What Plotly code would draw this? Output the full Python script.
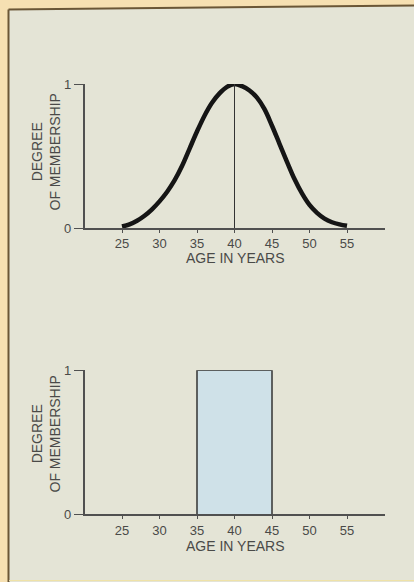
import plotly.graph_objects as go

# ---- data ----
ages = [25, 26, 27, 28, 29, 30, 31, 32, 33, 34, 35, 36, 37, 38, 39, 40,
        41, 42, 43, 44, 45, 46, 47, 48, 49, 50, 51, 52, 53, 54, 55]
fuzzy_membership = [0.01, 0.025, 0.05, 0.085, 0.13, 0.185, 0.25, 0.33, 0.43, 0.55, 0.67,
                    0.78, 0.87, 0.935, 0.98, 1.0,
                    0.985, 0.955, 0.905, 0.825, 0.71, 0.585, 0.46, 0.34, 0.24, 0.16,
                    0.105, 0.065, 0.04, 0.025, 0.015]
peak_age = 40
crisp_lower = 35
crisp_upper = 45
crisp_membership = 1
x_ticks = [25, 30, 35, 40, 45, 50, 55]
x_range = [20, 60]
y_ticks = [0, 1]

W, H = 414, 582
def px(x):
    return x / W
def py(y):
    return 1 - y / H

FONT = "Liberation Sans, Arial, sans-serif"
TXT = "#4a4a48"
AX = "#505050"
BG = "#e4e4d6"
OUTER = "#f6e0b2"

fig = go.Figure()

# top: fuzzy set
fig.add_trace(go.Scatter(x=ages, y=fuzzy_membership, mode="lines",
                         line=dict(color="#151515", width=4.5, shape="spline", smoothing=1.0),
                         xaxis="x", yaxis="y", showlegend=False, hoverinfo="skip"))
fig.add_trace(go.Scatter(x=[peak_age, peak_age], y=[0, max(fuzzy_membership)], mode="lines",
                         line=dict(color="#333333", width=1),
                         xaxis="x", yaxis="y", showlegend=False, hoverinfo="skip"))

# bottom: crisp set (open at the bottom so it sits on the axis)
fig.add_trace(go.Scatter(x=[crisp_lower, crisp_lower, crisp_upper, crisp_upper],
                         y=[0, crisp_membership, crisp_membership, 0],
                         mode="lines", fill="toself", fillcolor="#cfe1e8",
                         line=dict(color="#333333", width=1.5),
                         xaxis="x2", yaxis="y2", showlegend=False, hoverinfo="skip"))

xdom = [px(84.5), px(384.5)]
axis_common = dict(showgrid=False, zeroline=False, showline=True, linecolor=AX, linewidth=1.5,
                   ticks="outside", tickcolor=AX, tickwidth=1.2, automargin=False,
                   tickfont=dict(family=FONT, size=13, color=TXT))

fig.update_layout(
    width=W, height=H, autosize=False,
    margin=dict(l=0, r=0, t=0, b=0, pad=0, autoexpand=False),
    paper_bgcolor=OUTER,
    plot_bgcolor="rgba(0,0,0,0)",
    xaxis=dict(domain=xdom, range=x_range, tickvals=x_ticks, ticklen=3, anchor="y", **axis_common),
    yaxis=dict(domain=[py(228), py(84)], range=[0, 1], tickvals=y_ticks, ticklen=9, anchor="x",
               **axis_common),
    xaxis2=dict(domain=xdom, range=x_range, tickvals=x_ticks, ticklen=3, anchor="y2", **axis_common),
    yaxis2=dict(domain=[py(514.3), py(370.3)], range=[0, 1], tickvals=y_ticks, ticklen=9, anchor="x2",
                **axis_common),
)

# background panel with dark border on left/top
fig.add_shape(type="path", xref="paper", yref="paper", layer="below",
              path=f"M {px(8.5)},{py(9.5)} L 1,{py(5.5)} L 1,0 L {px(8.5)},0 Z",
              fillcolor=BG, line=dict(width=0))
fig.add_shape(type="line", xref="paper", yref="paper", layer="below",
              x0=px(8.5), y0=py(9.5), x1=1, y1=py(5.5), line=dict(color="#6a5636", width=2))
fig.add_shape(type="line", xref="paper", yref="paper", layer="below",
              x0=px(8.5), y0=py(9.5), x1=px(8.5), y1=0, line=dict(color="#6a5636", width=2))
fig.add_shape(type="line", xref="paper", yref="paper", layer="below",
              x0=px(9), y0=py(580.5), x1=1, y1=py(580.5), line=dict(color="#efe2a8", width=1))

def ann(text, x, y, angle=0):
    fig.add_annotation(text=text, xref="paper", yref="paper", x=px(x), y=py(y),
                       xanchor="center", yanchor="middle", showarrow=False, textangle=angle,
                       font=dict(family=FONT, size=14, color=TXT))

ann("AGE IN YEARS", 235, 258)
ann("AGE IN YEARS", 235, 546)
ann("DEGREE<br>OF MEMBERSHIP", 45.5, 152, -90)
ann("DEGREE<br>OF MEMBERSHIP", 45.5, 434, -90)

fig.write_html("out.html",
               config=dict(displayModeBar=False, responsive=False),
               post_script="document.body.style.margin='0';document.body.style.overflow='hidden';")
